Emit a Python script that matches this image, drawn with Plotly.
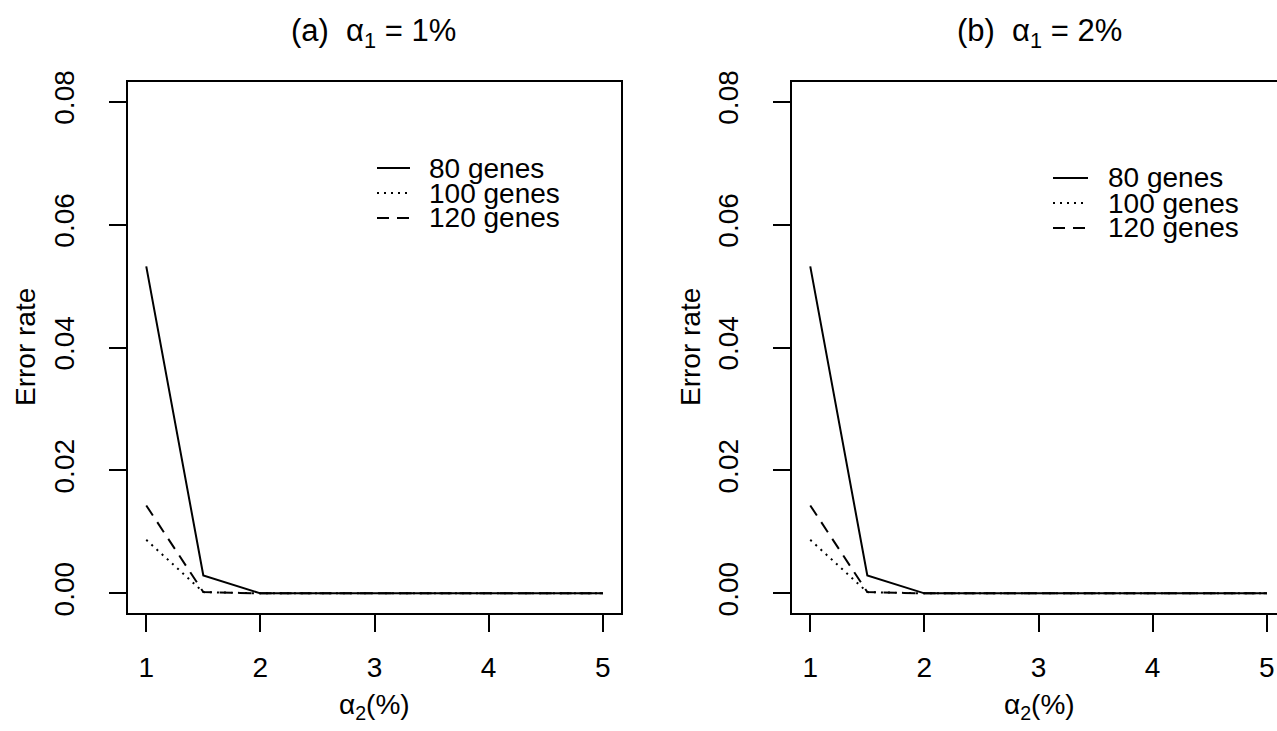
import plotly.graph_objects as go

# ---- data ----
alpha2 = [1, 1.5, 2, 2.5, 3, 3.5, 4, 4.5, 5]
err_80_a = [0.0532, 0.0029, 0, 0, 0, 0, 0, 0, 0]
err_100_a = [0.0087, 0.0002, 0, 0, 0, 0, 0, 0, 0]
err_120_a = [0.0143, 0.0002, 0, 0, 0, 0, 0, 0, 0]
err_80_b = [0.0532, 0.0029, 0, 0, 0, 0, 0, 0, 0]
err_100_b = [0.0087, 0.0002, 0, 0, 0, 0, 0, 0, 0]
err_120_b = [0.0143, 0.0002, 0, 0, 0, 0, 0, 0, 0]
series_names = ["80 genes", "100 genes", "120 genes"]
panel_titles = ["(a)  α<sub>1</sub> = 1%", "(b)  α<sub>1</sub> = 2%"]
x_ticks = [1, 2, 3, 4, 5]
y_ticks = [0.00, 0.02, 0.04, 0.06, 0.08]
y_ticktext = ["0.00", "0.02", "0.04", "0.06", "0.08"]

W, H = 1277, 731
FONT = "Liberation Sans, Arial, Helvetica, sans-serif"
FS = 28

def px(v):
    return v / W

def py(v):
    return 1 - v / H

dashes = ["solid", "2px,5px", "12px,8px"]

fig = go.Figure()
panels = [
    ("x", "y", [err_80_a, err_100_a, err_120_a]),
    ("x2", "y2", [err_80_b, err_100_b, err_120_b]),
]
for xa, ya, ser in panels:
    for name, vals, d in zip(series_names, ser, dashes):
        fig.add_trace(go.Scatter(x=alpha2, y=vals, mode="lines", name=name,
                                 xaxis=xa, yaxis=ya, showlegend=False,
                                 line=dict(color="black", width=2, dash=d)))

scale = (621 - 128) / 4.32
axis_common = dict(showgrid=False, zeroline=False, showline=True, linecolor="black",
                   linewidth=2, ticks="outside", ticklen=17, tickwidth=2, tickcolor="black",
                   automargin=False,
                   tickfont=dict(family=FONT, size=FS, color="black"))

fig.update_layout(
    template="none",
    width=W, height=H, margin=dict(l=0, r=0, t=0, b=0, pad=0, autoexpand=False),
    paper_bgcolor="white", plot_bgcolor="white",
    xaxis=dict(domain=[px(128), px(621)], range=[0.84, 5.16], tickvals=x_ticks,
               mirror=True, anchor="y", ticklabelstandoff=11, **axis_common),
    xaxis2=dict(domain=[px(792), 1.0], range=[0.84, 0.84 + (W - 792) / scale], tickvals=x_ticks,
                mirror=True, anchor="y2", ticklabelstandoff=11, **axis_common),
    yaxis=dict(domain=[py(613), py(82)], range=[-0.0032, 0.0832], tickvals=y_ticks,
               ticktext=y_ticktext, tickangle=-90, mirror=True, anchor="x",
               ticklabelstandoff=24, **axis_common),
    yaxis2=dict(domain=[py(613), py(82)], range=[-0.0032, 0.0832], tickvals=y_ticks,
                ticktext=y_ticktext, tickangle=-90, mirror=False, anchor="x2",
                ticklabelstandoff=24, **axis_common),
)

ann = []
# panel titles
ann.append(dict(x=px(373), y=py(33), text=panel_titles[0], font=dict(family=FONT, size=31, color="black")))
ann.append(dict(x=px(1039), y=py(33), text=panel_titles[1], font=dict(family=FONT, size=31, color="black")))
# axis titles
for cx in [(128 + 621) / 2, (792 + 1287) / 2]:
    ann.append(dict(x=px(cx), y=py(706), text="α<sub>2</sub>(%)", font=dict(family=FONT, size=FS, color="black")))
for cx in [25, 690]:
    ann.append(dict(x=px(cx), y=py(347), text="Error rate", textangle=-90,
                    font=dict(family=FONT, size=FS, color="black")))
for a in ann:
    a.update(xref="paper", yref="paper", showarrow=False, xanchor="center", yanchor="middle")

# legends (R-style, no box)
shapes = []
legend_pos = [(377, 410, 428, 168), (1053, 1088, 1107, 178)]
for x0, x1, tx, y0 in legend_pos:
    for i, (name, d) in enumerate(zip(series_names, dashes)):
        yy = y0 + 25 * i
        shapes.append(dict(type="line", xref="paper", yref="paper", x0=px(x0), x1=px(x1),
                           y0=py(yy), y1=py(yy), line=dict(color="black", width=2, dash=d)))
        ann.append(dict(x=px(tx), y=py(yy), xref="paper", yref="paper", text=name,
                        showarrow=False, xanchor="left", yanchor="middle", borderpad=0,
                        font=dict(family=FONT, size=FS, color="black")))

fig.update_layout(annotations=ann, shapes=shapes)
fig.write_html("out.html", config={"displayModeBar": False},
               post_script="document.body.style.margin='0';document.body.style.overflow='hidden';")
